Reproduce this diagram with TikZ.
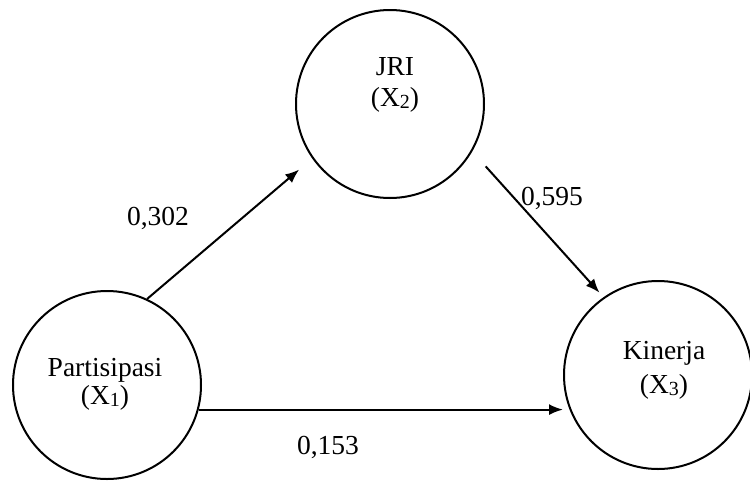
\documentclass[tikz,border=0pt]{standalone}
\usepackage{fontspec}
\setmainfont{Liberation Serif}
\usetikzlibrary{arrows.meta}
\newcommand{\sbn}[1]{{\fontsize{20}{20}\selectfont\raisebox{-1.5pt}{#1}}}
\begin{document}
\begin{tikzpicture}[x=1pt,y=-1pt,
  var/.style={draw,circle,line width=2pt,minimum size=188pt,inner sep=0pt},
  lbl/.style={font=\fontsize{27.5}{30}\selectfont,inner sep=0pt},
  arr/.style={line width=2pt,-{Latex[length=14pt,width=11pt]}}]
\useasboundingbox (0,0) rectangle (750,485);
\node[var] (J) at (390,104) {};
\node[var] (P) at (107,385) {};
\node[var] (K) at (658,375) {};
\node[lbl] (Jt) at (395,67) {JRI};
\node[lbl] (Jx) at (395,100) {(X\sbn{2})};
\node[lbl] (Pt) at (105,370) {Partisipasi};
\node[lbl] (Px) at (105,398) {(X\sbn{1})};
\node[lbl] (Kt) at (664,353) {Kinerja};
\node[lbl] (Kx) at (664,387) {(X\sbn{3})};
\draw[arr,shorten >=17pt] (P.65) -- (J.215);
\draw[arr,shorten <=20pt,shorten >=6pt] (J.330) -- (K.125);
\draw[arr] (P.345) -- (P.345 -| K.west);
\node[lbl] (l1) at (158,218) {0,302};
\node[lbl] (l2) at (552,198) {0,595};
\node[lbl] (l3) at (328,447) {0,153};
\end{tikzpicture}
\end{document}
